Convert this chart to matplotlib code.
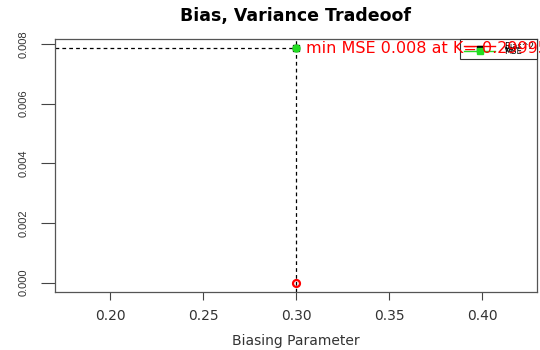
import matplotlib
matplotlib.use("Agg")
import matplotlib.pyplot as plt
from matplotlib.lines import Line2D

plt.rcParams['font.family'] = ['DejaVu Sans']

k_values = [0.3]
bias2 = [0.0]
variance = [0.00785]
mse = [0.00785]
min_k = 0.29995
min_mse = 0.00785
xticks = [0.20, 0.25, 0.30, 0.35, 0.40]
yticks = [0.000, 0.002, 0.004, 0.006, 0.008]

fig = plt.figure(figsize=(5.4, 3.5), dpi=100)
ax = fig.add_axes([55/540, 58/350, 482/540, 253/350])

ax.plot(k_values, variance, 's', color='black', ms=4, zorder=3)
ax.plot(k_values, mse, 'o', color='#22dd22', ms=5, zorder=4)
ax.plot(k_values, bias2, 'o', mfc='none', mec='red', ms=5, mew=1.6, zorder=4)

ax.axvline(min_k, color='black', ls=(0, (3, 2.5)), lw=0.9, zorder=2)
ax.plot([0.1704, min_k], [min_mse, min_mse], color='black', ls=(0, (3, 2.5)), lw=0.9, zorder=2)

ax.text(min_k + 0.0055, min_mse, f"min MSE {min_mse:.3f} at K= {min_k}", color='red',
        fontsize=11.5, va='center', ha='left', clip_on=False, zorder=10)

ax.set_xlim(0.1704, 0.4296)
ax.set_ylim(-0.000314, 0.008164)
ax.set_xticks(xticks)
ax.set_xticklabels([f"{v:.2f}" for v in xticks], fontsize=10)
ax.set_yticks(yticks)
ax.set_yticklabels([f"{v:.3f}" for v in yticks], fontsize=8, rotation=90, va='center',
                   family='Liberation Sans')
ax.tick_params(axis='x', direction='out', length=6, width=0.8, colors='#444444',
               labelcolor='#333333', pad=6)
ax.tick_params(axis='y', direction='out', length=10, width=0.8, colors='#444444',
               labelcolor='#333333', pad=9)
for s in ax.spines.values():
    s.set_color('#555555')
    s.set_linewidth(0.9)

ax.set_xlabel("Biasing Parameter", fontsize=10, color='#333333', labelpad=8)
ax.set_title("Bias, Variance Tradeoof", fontsize=12.5, fontweight='bold', pad=13)

handles = [Line2D([], [], color='red', ls='-', lw=1),
           Line2D([], [], marker='s', color='black', ls='none', ms=5),
           Line2D([], [], marker='s', color='#22dd22', ls='-', lw=1, ms=5)]
leg = ax.legend(handles, ["Bias^2", "Var", "MSE"], loc='upper right', fontsize=6,
                labelspacing=-0.8, handlelength=3.8, borderpad=0.4, fancybox=False,
                framealpha=1, edgecolor='#333333', borderaxespad=0.0,
                handletextpad=1.0)
leg.get_frame().set_linewidth(0.8)
leg.set_zorder(5)

fig.savefig("out.png", dpi=100)
